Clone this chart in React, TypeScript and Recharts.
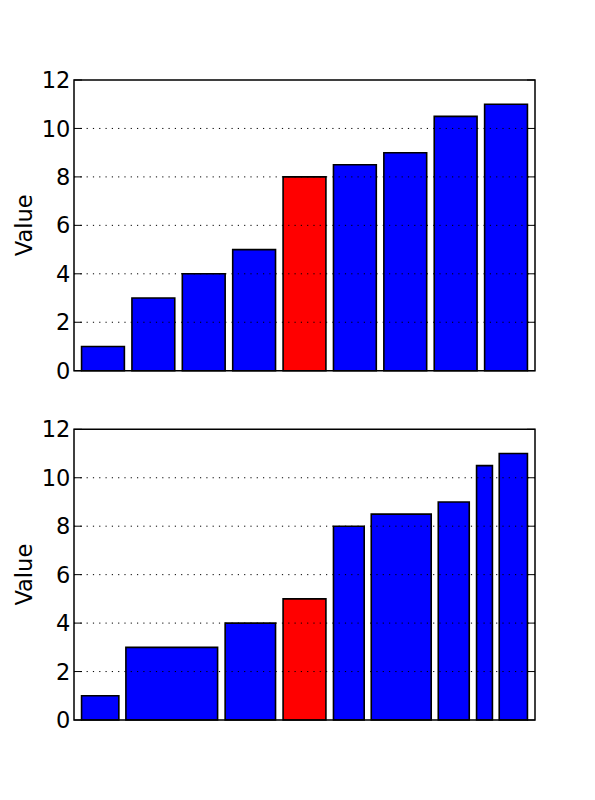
import React from 'react';
import { ComposedChart, XAxis, YAxis, ReferenceArea, ReferenceLine } from 'recharts';

const BLUE = '#0000ff';
const RED = '#ff0000';

const topValues = [1, 3, 4, 5, 8, 8.5, 9, 10.5, 11];
const topLefts = [0, 1, 2, 3, 4, 5, 6, 7, 8];
const topWidths = [0.85, 0.85, 0.85, 0.85, 0.85, 0.85, 0.85, 0.85, 0.85];
const topColors = [BLUE, BLUE, BLUE, BLUE, RED, BLUE, BLUE, BLUE, BLUE];

const bottomValues = [1, 3, 4, 5, 8, 8.5, 9, 10.5, 11];
const bottomLefts = [0, 0.88, 2.85, 4.0, 5.0, 5.75, 7.08, 7.84, 8.29];
const bottomWidths = [0.74, 1.82, 1.0, 0.85, 0.61, 1.19, 0.615, 0.315, 0.56];
const bottomColors = [BLUE, BLUE, BLUE, RED, BLUE, BLUE, BLUE, BLUE, BLUE];

const yTicks = [0, 2, 4, 6, 8, 10, 12];
const gridValues = [2, 4, 6, 8, 10];
const xDomain: [number, number] = [-0.15, 9];
const yDomain: [number, number] = [0, 12];
const yLabel = 'Value';

const FONT = 'DejaVu Sans';
const FONT_SIZE = 22.5;
const TICK_LEN = 8;
const TICK_MARGIN = 3.7;

const ValueLabel = (props: any) => {
  const vb = props.viewBox || {};
  const x = vb.x + 18.3;
  const y = vb.y + vb.height / 2;
  return (
    <text
      x={x}
      y={y}
      transform={`rotate(-90, ${x}, ${y})`}
      textAnchor="middle"
      fill="#000"
      fontFamily={FONT}
      fontSize={FONT_SIZE}
    >
      {yLabel}
    </text>
  );
};

const LeftTick = (props: any) => {
  const { x, y, payload } = props;
  const ax = x + TICK_MARGIN;
  return (
    <g>
      <line x1={ax} x2={ax + TICK_LEN} y1={y} y2={y} stroke="#000" strokeWidth={1} />
      <text
        x={x}
        y={y}
        dy="0.36em"
        textAnchor="end"
        fill="#000"
        fontFamily={FONT}
        fontSize={FONT_SIZE}
      >
        {payload.value}
      </text>
    </g>
  );
};

const RightTick = (props: any) => {
  const { x, y } = props;
  const ax = x - TICK_MARGIN;
  return <line x1={ax} x2={ax - TICK_LEN} y1={y} y2={y} stroke="#000" strokeWidth={1} />;
};

type PanelProps = {
  values: number[];
  lefts: number[];
  widths: number[];
  colors: string[];
  marginTop: number;
  marginBottom: number;
};

const Panel = ({ values, lefts, widths, colors, marginTop, marginBottom }: PanelProps) => {
  const rows = values.map((v, i) => ({ left: lefts[i], right: lefts[i] + widths[i], value: v, color: colors[i] }));
  return (
    <ComposedChart
      width={595}
      height={400}
      data={rows}
      margin={{ top: marginTop, bottom: marginBottom, left: 14, right: 50 }}
    >
      <XAxis type="number" dataKey="left" domain={xDomain} allowDataOverflow hide />
      <YAxis
        type="number"
        domain={yDomain}
        ticks={yTicks}
        interval={0}
        allowDataOverflow
        width={60}
        tickSize={0}
        tickMargin={TICK_MARGIN}
        axisLine={false}
        tickLine={false}
        tick={<LeftTick />}
        label={<ValueLabel />}
      />
      <YAxis
        yAxisId="right"
        orientation="right"
        type="number"
        domain={yDomain}
        ticks={yTicks}
        interval={0}
        allowDataOverflow
        width={10}
        tickSize={0}
        tickMargin={TICK_MARGIN}
        axisLine={false}
        tickLine={false}
        tick={<RightTick />}
      />
      {rows.map((r, i) => (
        <ReferenceArea
          key={`bar-${i}`}
          x1={r.left}
          x2={r.right}
          y1={0}
          y2={r.value}
          fill={r.color}
          fillOpacity={1}
          stroke="#000"
          strokeWidth={1.6}
          ifOverflow="visible"
        />
      ))}
      {gridValues.map((g) => (
        <ReferenceLine
          key={`grid-${g}`}
          y={g}
          stroke="#000"
          strokeWidth={1}
          strokeDasharray="1.2 5.1"
        />
      ))}
      <ReferenceArea
        x1={xDomain[0]}
        x2={xDomain[1]}
        y1={yDomain[0]}
        y2={yDomain[1]}
        fill="none"
        fillOpacity={0}
        stroke="#000"
        strokeWidth={1.5}
        ifOverflow="visible"
      />
    </ComposedChart>
  );
};

export default function App() {
  return (
    <div style={{ position: 'absolute', left: 0, top: 0, width: 595, height: 800, background: '#fff', fontFamily: FONT }}>
      <Panel
        values={topValues}
        lefts={topLefts}
        widths={topWidths}
        colors={topColors}
        marginTop={80}
        marginBottom={29.3}
      />
      <Panel
        values={bottomValues}
        lefts={bottomLefts}
        widths={bottomWidths}
        colors={bottomColors}
        marginTop={29.3}
        marginBottom={80}
      />
    </div>
  );
}
